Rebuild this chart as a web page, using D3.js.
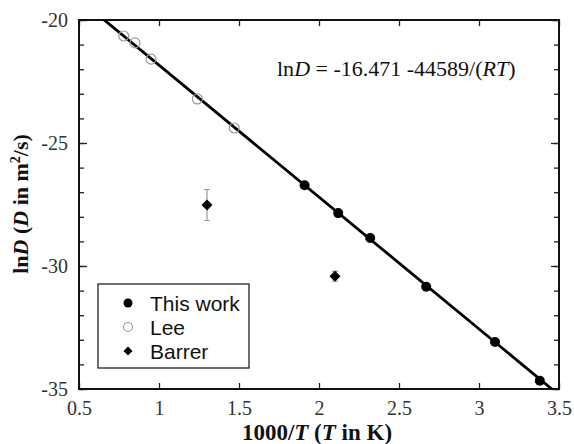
<!DOCTYPE html>
<html>
<head>
<meta charset="utf-8">
<script src="https://cdn.jsdelivr.net/npm/d3@7"></script>
<style>
  body { margin: 0; background: #fff; }
</style>
</head>
<body>
<svg id="chart" width="574" height="444"></svg>
<script>
// data
const thisWorkX = [1.91, 2.12, 2.32, 2.67, 3.10, 3.38];
const thisWorkY = [-26.72, -27.85, -28.86, -30.84, -33.09, -34.66];
const leeX = [0.78, 0.85, 0.95, 1.24, 1.47];
const leeY = [-20.65, -20.93, -21.59, -23.21, -24.39];
const barrerX = [1.30, 2.10];
const barrerY = [-27.52, -30.42];
const barrerErr = [0.63, 0.2];
const fitA = -16.471, fitB = 44589, R = 8.314;
const xTicks = [0.5, 1, 1.5, 2, 2.5, 3, 3.5];
const yTicks = [-35, -30, -25, -20];
const legendNames = ['This work', 'Lee', 'Barrer'];

const SERIF = '"Liberation Serif", "Times New Roman", serif';
const SANS = '"Liberation Sans", Arial, sans-serif';

const svg = d3.select('#chart');
const m = { l: 79, r: 15, t: 20, b: 55 };
const W = 574, H = 444;

const x = d3.scaleLinear().domain([0.5, 3.5]).range([m.l, W - m.r]);
const y = d3.scaleLinear().domain([-35, -20]).range([H - m.b, m.t]);
const fmt = d => String(d);   // keep plain hyphen-minus

// clip for fit line
svg.append('clipPath').attr('id', 'clip')
  .append('rect')
  .attr('x', x(0.5)).attr('y', y(-20))
  .attr('width', x(3.5) - x(0.5)).attr('height', y(-35) - y(-20));

// axes: ticks inward on all four sides
const tickCol = '#222';
const gBottom = svg.append('g').attr('transform', `translate(0,${y(-35)})`)
  .call(d3.axisBottom(x).tickValues(xTicks).tickSize(-6).tickPadding(12).tickFormat(fmt));
const gTop = svg.append('g').attr('transform', `translate(0,${y(-20)})`)
  .call(d3.axisTop(x).tickValues(xTicks).tickSize(-6).tickFormat(''));
const gLeft = svg.append('g').attr('transform', `translate(${x(0.5)},0)`)
  .call(d3.axisLeft(y).tickValues(d3.range(-35, -19, 1)).tickSize(-5).tickFormat(''));
const gLeftMajor = svg.append('g').attr('transform', `translate(${x(0.5)},0)`)
  .call(d3.axisLeft(y).tickValues(yTicks).tickSize(-8).tickPadding(11).tickFormat(fmt));
const gRight = svg.append('g').attr('transform', `translate(${x(3.5)},0)`)
  .call(d3.axisRight(y).tickValues(d3.range(-35, -19, 1)).tickSize(-5).tickFormat(''));
const gRightMajor = svg.append('g').attr('transform', `translate(${x(3.5)},0)`)
  .call(d3.axisRight(y).tickValues(yTicks).tickSize(-8).tickFormat(''));

[gBottom, gTop, gLeft, gLeftMajor, gRight, gRightMajor].forEach(g => {
  g.select('.domain').remove();
  g.attr('font-family', null).attr('font-size', null);
  g.selectAll('line').attr('stroke', tickCol).attr('stroke-width', 1.3);
  g.selectAll('text').style('font-family', SERIF)
    .style('font-size', '20px').attr('fill', '#333');
});

// frame
svg.append('rect')
  .attr('x', x(0.5)).attr('y', y(-20))
  .attr('width', x(3.5) - x(0.5)).attr('height', y(-35) - y(-20))
  .attr('fill', 'none').attr('stroke', '#111').attr('stroke-width', 2);

// fit line
const fit = v => fitA - fitB / (R * 1000 / v);
svg.append('line')
  .attr('clip-path', 'url(#clip)')
  .attr('x1', x(0.5)).attr('y1', y(fit(0.5)))
  .attr('x2', x(3.5)).attr('y2', y(fit(3.5)))
  .attr('stroke', '#000').attr('stroke-width', 2.8);

// Lee
svg.append('g').selectAll('circle')
  .data(leeX.map((v, i) => [v, leeY[i]]))
  .join('circle')
  .attr('cx', d => x(d[0])).attr('cy', d => y(d[1])).attr('r', 5)
  .attr('fill', 'none').attr('stroke', '#999').attr('stroke-width', 1.2);

// this work
svg.append('g').selectAll('circle')
  .data(thisWorkX.map((v, i) => [v, thisWorkY[i]]))
  .join('circle')
  .attr('cx', d => x(d[0])).attr('cy', d => y(d[1])).attr('r', 5)
  .attr('fill', '#000');

// Barrer with error bars
const barrer = barrerX.map((v, i) => ({ x: v, y: barrerY[i], e: barrerErr[i] }));
const diamondPath = s => `M0,${-s}L${s},0L0,${s}L${-s},0Z`;
const bg = svg.append('g');
bg.selectAll('.eb').data(barrer).join('path').attr('class', 'eb')
  .attr('d', d => {
    const cx = x(d.x), y0 = y(d.y - d.e), y1 = y(d.y + d.e);
    return `M${cx},${y0}V${y1}M${cx - 3},${y0}H${cx + 3}M${cx - 3},${y1}H${cx + 3}`;
  })
  .attr('fill', 'none').attr('stroke', '#999').attr('stroke-width', 1.2);
bg.selectAll('.dm').data(barrer).join('path').attr('class', 'dm')
  .attr('transform', d => `translate(${x(d.x)},${y(d.y)})`)
  .attr('d', diamondPath(5.5)).attr('fill', '#000');

// equation
const eq = svg.append('text').attr('x', 277).attr('y', 76)
  .style('font-family', SERIF).style('font-size', '22px').attr('fill', '#111');
eq.append('tspan').text('ln');
eq.append('tspan').attr('font-style', 'italic').text('D');
eq.append('tspan').text(' = -16.471 -44589/(');
eq.append('tspan').attr('font-style', 'italic').text('RT');
eq.append('tspan').text(')');

// legend
const lg = svg.append('g');
lg.append('rect').attr('x', 98).attr('y', 284).attr('width', 151).attr('height', 84)
  .attr('fill', '#fff').attr('stroke', '#222').attr('stroke-width', 1.3);
const rowY = [303, 327, 351];
legendNames.forEach((name, i) => {
  const cx = 128, cy = rowY[i];
  if (i === 0) lg.append('circle').attr('cx', cx).attr('cy', cy).attr('r', 4.5).attr('fill', '#000');
  if (i === 1) lg.append('circle').attr('cx', cx).attr('cy', cy).attr('r', 4.5)
    .attr('fill', 'none').attr('stroke', '#999').attr('stroke-width', 1.2);
  if (i === 2) lg.append('path').attr('transform', `translate(${cx},${cy})`)
    .attr('d', diamondPath(4.5)).attr('fill', '#000');
  lg.append('text').attr('x', 150).attr('y', cy).attr('dy', '0.36em')
    .style('font-family', SANS).style('font-size', '21px').attr('fill', '#111').text(name);
});

// axis titles
const xt = svg.append('text').attr('x', 317).attr('y', 440).attr('text-anchor', 'middle')
  .style('font-family', SERIF).style('font-size', '23px').attr('font-weight', 'bold').attr('fill', '#111');
xt.append('tspan').text('1000/');
xt.append('tspan').attr('font-style', 'italic').text('T');
xt.append('tspan').text(' (');
xt.append('tspan').attr('font-style', 'italic').text('T');
xt.append('tspan').text(' in K)');

const yt = svg.append('text').attr('transform', 'translate(28,204) rotate(-90)')
  .attr('text-anchor', 'middle')
  .style('font-family', SERIF).style('font-size', '22px').attr('font-weight', 'bold').attr('fill', '#111');
yt.append('tspan').text('ln');
yt.append('tspan').attr('font-style', 'italic').text('D');
yt.append('tspan').text(' (');
yt.append('tspan').attr('font-style', 'italic').text('D');
yt.append('tspan').text(' in m');
yt.append('tspan').style('font-size', '14px').attr('dy', -8).text('2');
yt.append('tspan').attr('dy', 8).text('/s)');
</script>
</body>
</html>
